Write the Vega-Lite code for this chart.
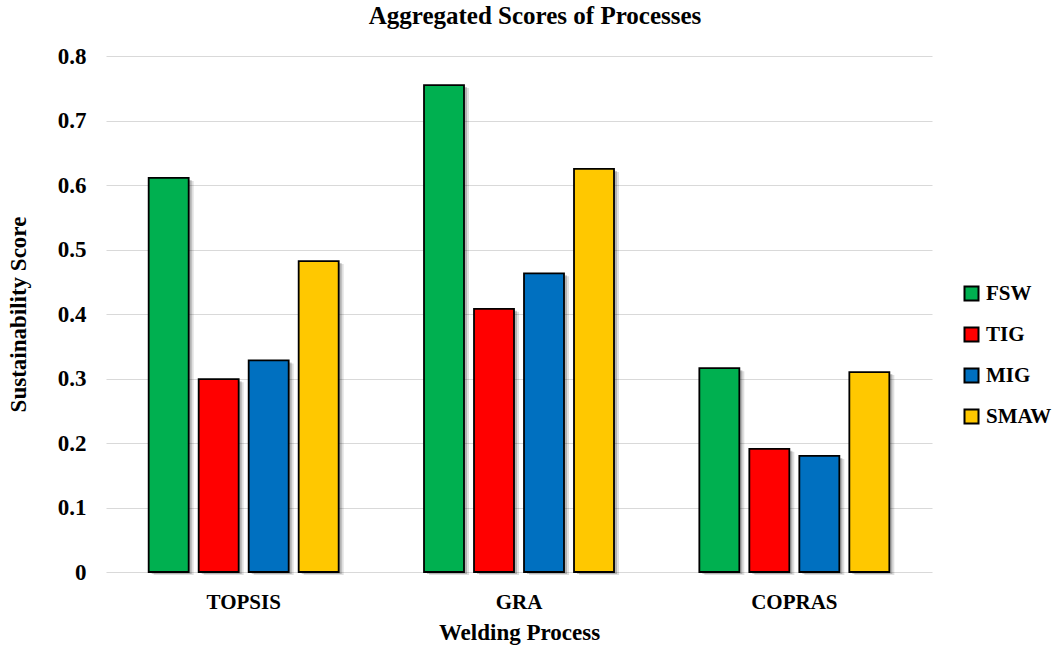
{
  "$schema": "https://vega.github.io/schema/vega-lite/v6.json",
  "autosize": {"type": "none"},
  "width": 826,
  "height": 516,
  "padding": {"left": 106, "top": 56, "right": 125, "bottom": 77},
  "background": "white",
  "config": {
    "font": "Liberation Serif",
    "view": {"stroke": null},
    "axis": {"labelFont": "Liberation Serif", "titleFont": "Liberation Serif", "labelFontWeight": "bold", "titleFontWeight": "bold", "labelColor": "#000000", "titleColor": "#000000"}
  },
  "title": {
    "text": "Aggregated Scores of Processes",
    "font": "Liberation Serif",
    "fontSize": 25,
    "fontWeight": "bold",
    "color": "#000000",
    "anchor": "middle",
    "frame": "group",
    "dx": 16,
    "baseline": "alphabetic",
    "offset": -4
  },
  "data": {
    "values": [
      {"Method": "TOPSIS", "Process": "FSW", "Score": 0.611},
      {"Method": "TOPSIS", "Process": "TIG", "Score": 0.299},
      {"Method": "TOPSIS", "Process": "MIG", "Score": 0.328},
      {"Method": "TOPSIS", "Process": "SMAW", "Score": 0.482},
      {"Method": "GRA", "Process": "FSW", "Score": 0.755},
      {"Method": "GRA", "Process": "TIG", "Score": 0.408},
      {"Method": "GRA", "Process": "MIG", "Score": 0.463},
      {"Method": "GRA", "Process": "SMAW", "Score": 0.625},
      {"Method": "COPRAS", "Process": "FSW", "Score": 0.316},
      {"Method": "COPRAS", "Process": "TIG", "Score": 0.191},
      {"Method": "COPRAS", "Process": "MIG", "Score": 0.18},
      {"Method": "COPRAS", "Process": "SMAW", "Score": 0.31}
    ]
  },
  "encoding": {
    "x": {
      "field": "Method",
      "type": "nominal",
      "sort": ["TOPSIS", "GRA", "COPRAS"],
      "scale": {"paddingInner": 0.31, "paddingOuter": 0.155},
      "axis": {
        "title": "Welding Process",
        "titleFontSize": 23,
        "titlePadding": 9,
        "labelFontSize": 21,
        "labelAngle": 0,
        "labelPadding": 19,
        "ticks": false,
        "domain": false
      }
    },
    "y": {
      "field": "Score",
      "type": "quantitative",
      "scale": {"domain": [0, 0.8], "nice": false},
      "axis": {
        "title": "Sustainability Score",
        "titleFontSize": 23,
        "titlePadding": 27,
        "labelFontSize": 23,
        "labelPadding": 20,
        "values": [0, 0.1, 0.2, 0.3, 0.4, 0.5, 0.6, 0.7, 0.8],
        "format": ".1~f",
        "ticks": false,
        "domain": false,
        "grid": true,
        "gridColor": "#d9d9d9",
        "gridWidth": 1.2
      }
    }
  },
  "layer": [
    {
      "mark": {"type": "bar", "fill": "#000000", "opacity": 0.12, "yOffset": 3},
      "encoding": {
        "xOffset": {
          "field": "Process",
          "type": "nominal",
          "sort": ["FSW", "TIG", "MIG", "SMAW"],
          "scale": {"paddingInner": 0.2, "paddingOuter": 0, "range": [5, 195]}
        }
      }
    },
    {
      "mark": {"type": "bar", "fill": "#000000", "opacity": 0.2, "yOffset": 2},
      "encoding": {
        "xOffset": {
          "field": "Process",
          "type": "nominal",
          "sort": ["FSW", "TIG", "MIG", "SMAW"],
          "scale": {"paddingInner": 0.2, "paddingOuter": 0, "range": [3, 193]}
        }
      }
    },
    {
      "mark": {"type": "bar", "stroke": "#000000", "strokeWidth": 1.8, "opacity": 1},
      "encoding": {
        "xOffset": {
          "field": "Process",
          "type": "nominal",
          "sort": ["FSW", "TIG", "MIG", "SMAW"],
          "scale": {"paddingInner": 0.2, "paddingOuter": 0, "range": [0, 190]}
        },
        "color": {
          "field": "Process",
          "type": "nominal",
          "sort": ["FSW", "TIG", "MIG", "SMAW"],
          "scale": {"domain": ["FSW", "TIG", "MIG", "SMAW"], "range": ["#00B050", "#FF0000", "#0070C0", "#FFC800"]},
          "legend": {
            "title": null,
            "orient": "none",
            "legendX": 855,
            "legendY": 227,
            "symbolType": "square",
            "symbolSize": 196,
            "symbolStrokeColor": "#000000",
            "symbolStrokeWidth": 2,
            "symbolOpacity": 1,
            "labelFont": "Liberation Serif",
            "labelFontSize": 21,
            "labelFontWeight": "bold",
            "labelColor": "#000000",
            "labelOffset": 4,
            "rowPadding": 18,
            "padding": 0
          }
        }
      }
    }
  ],
  "resolve": {"scale": {"xOffset": "independent"}}
}
